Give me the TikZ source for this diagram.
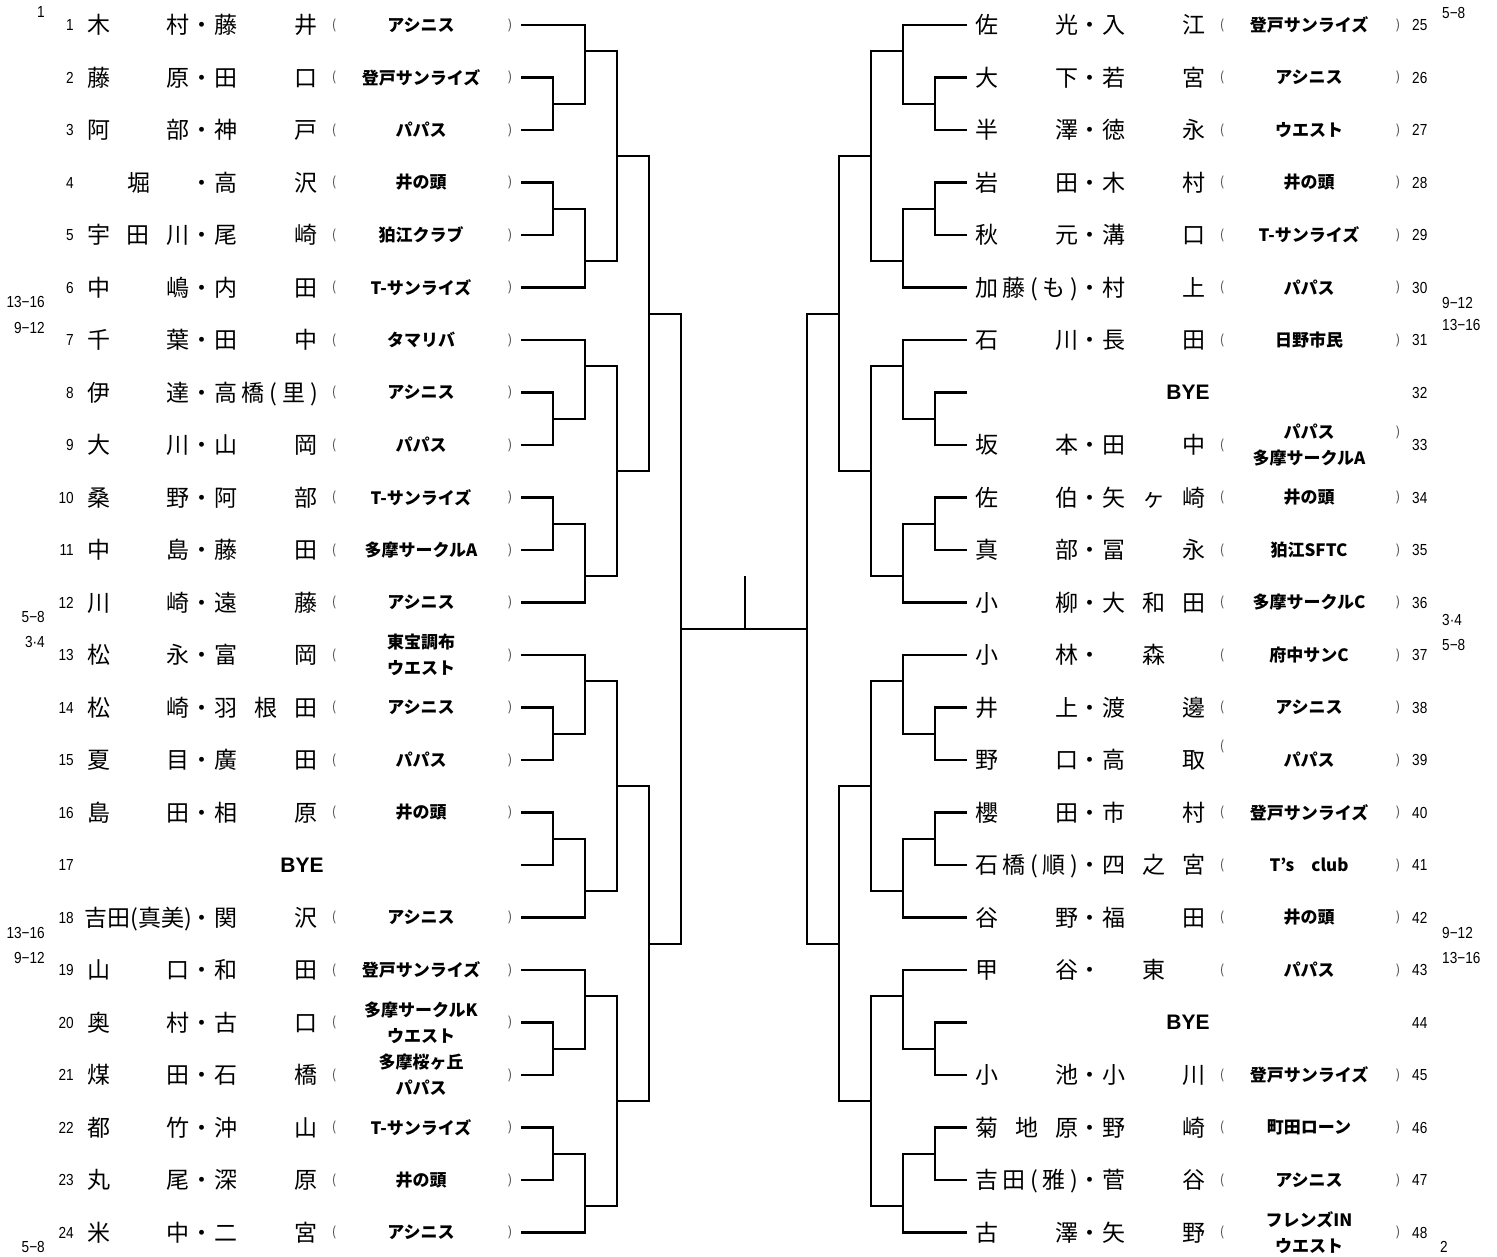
\documentclass[tikz,border=0pt]{standalone}
\usepackage{fontspec}
\setmainfont{Noto Sans CJK JP}
\newfontfamily\labfont{Liberation Sans}[FakeStretch=0.85]
\newfontfamily\byefont{Liberation Sans}
\makeatletter
\def\dist#1{\dist@a#1\relax}
\def\dist@a#1{#1\dist@b}
\def\dist@b#1{\ifx\relax#1\else\hfill#1\expandafter\dist@b\fi}
\makeatother
\tikzset{
  br/.style={line width=2.4pt, line join=miter},
  nm/.style={inner sep=0pt, font=\fontsize{23}{23}\selectfont, text height=20.2pt, text depth=2.8pt},
  team/.style={inner sep=0pt, align=center, font=\bfseries\fontsize{17}{26}\selectfont},
  par/.style={inner sep=0pt, font=\fontsize{13}{13}\selectfont, text=black!70},
  num/.style={inner sep=0pt, font=\labfont\fontsize{16}{16}\selectfont},
  lab/.style={inner sep=0pt, font=\labfont\fontsize{16}{16}\selectfont},
  byetxt/.style={inner sep=0pt, font=\byefont\bfseries\fontsize{21}{21}\selectfont},
}
% general entry: no, side, left, right, team, dy of '(', dy of ')'
\newcommand\entg[7]{%
  \pgfmathsetmacro\yy{25+(#1-1-24*#2)*52.5}%
  \pgfmathsetmacro\dx{888*#2}%
  \ifnum#2=0 \node[num,anchor=east] (n#1) at (74,\yy) {#1};%
  \else \node[num,anchor=west] (n#1) at (1412,\yy) {#1};\fi
  \node[nm] (a#1) at ({138.5+\dx},\yy) {\makebox[103pt]{\dist{#3}}};
  \node[nm] (d#1) at ({202+\dx},\yy) {・};
  \node[nm] (b#1) at ({266+\dx},\yy) {\makebox[104pt]{\dist{#4}}};
  \node[par] (o#1) at ({334+\dx},{\yy+#6}) {(};
  \node[par] (c#1) at ({510+\dx},{\yy+#7}) {)};
  \node[team] (t#1) at ({421+\dx},\yy) {#5};
}
\newcommand\ent[5]{\entg{#1}{#2}{#3}{#4}{#5}{0}{0}}
\newcommand\byeent[2]{%
  \pgfmathsetmacro\yy{25+(#1-1-24*#2)*52.5}%
  \pgfmathsetmacro\dx{886*#2}%
  \ifnum#2=0 \node[num,anchor=east] (n#1) at (74,\yy) {#1};%
  \else \node[num,anchor=west] (n#1) at (1412,\yy) {#1};\fi
  \node[byetxt] (y#1) at ({302+\dx},\yy) {BYE};
}
\begin{document}
\begin{tikzpicture}[x=1pt,y=-1pt]
\useasboundingbox (0,0) rectangle (1497,1257);
% row end points
\foreach \n in {1,...,24}{
  \coordinate (E\n) at (521,{25+(\n-1)*52.5});
}
\foreach \n in {25,...,48}{
  \coordinate (E\n) at (967,{25+(\n-25)*52.5});
}
% groups of six
\foreach \a/\s/\o/\r in {1/1/0/1, 7/1/0/7, 13/1/0/13, 19/1/0/19,
                         25/-1/1488/1, 31/-1/1488/7, 37/-1/1488/13, 43/-1/1488/19}{
  \pgfmathtruncatemacro\b{\a+1}
  \pgfmathtruncatemacro\c{\a+2}
  \pgfmathtruncatemacro\d{\a+3}
  \pgfmathtruncatemacro\e{\a+4}
  \pgfmathtruncatemacro\f{\a+5}
  \coordinate (P\a) at ({\o+\s*553},{25+(\r+0.5)*52.5});
  \coordinate (D\a) at ({\o+\s*553},{25+(\r+2.5)*52.5});
  \coordinate (Qt\a) at ({\o+\s*585},{25+(\r-0.5)*52.5});
  \coordinate (Qb\a) at ({\o+\s*585},{25+(\r+3.5)*52.5});
  \coordinate (G\a) at ({\o+\s*617},{25+(\r+1.5)*52.5});
  \draw[br] (E\b) -| (P\a) |- (E\c);
  \draw[br] (E\d) -| (D\a) |- (E\e);
  \draw[br] (E\a) -| (Qt\a) |- (P\a);
  \draw[br] (D\a) -| (Qb\a) |- (E\f);
  \draw[br] (Qt\a) -| (G\a) |- (Qb\a);
}
% halves and final
\coordinate (HL1) at (649,{25+5.5*52.5});
\coordinate (HL2) at (649,{25+17.5*52.5});
\coordinate (FL) at (681,{25+11.5*52.5});
\coordinate (HR1) at (839,{25+5.5*52.5});
\coordinate (HR2) at (839,{25+17.5*52.5});
\coordinate (FR) at (807,{25+11.5*52.5});
\draw[br] (G1) -| (HL1) |- (G7);
\draw[br] (G13) -| (HL2) |- (G19);
\draw[br] (HL1) -| (FL) |- (HL2);
\draw[br] (G25) -| (HR1) |- (G31);
\draw[br] (G37) -| (HR2) |- (G43);
\draw[br] (HR1) -| (FR) |- (HR2);
\draw[br] (FL) -- (FR);
\coordinate (TK) at (745,{25+10.5*52.5});
\draw[br] (TK) -- (TK |- FL);
% left entries
\ent{1}{0}{木村}{藤井}{アシニス}
\ent{2}{0}{藤原}{田口}{登戸サンライズ}
\ent{3}{0}{阿部}{神戸}{パパス}
\ent{4}{0}{堀}{高沢}{井の頭}
\ent{5}{0}{宇田川}{尾崎}{狛江クラブ}
\ent{6}{0}{中嶋}{内田}{T-サンライズ}
\ent{7}{0}{千葉}{田中}{タマリバ}
\ent{8}{0}{伊達}{高橋(里)}{アシニス}
\ent{9}{0}{大川}{山岡}{パパス}
\ent{10}{0}{桑野}{阿部}{T-サンライズ}
\ent{11}{0}{中島}{藤田}{多摩サークルA}
\ent{12}{0}{川崎}{遠藤}{アシニス}
\ent{13}{0}{松永}{富岡}{東宝調布\\ウエスト}
\ent{14}{0}{松崎}{羽根田}{アシニス}
\ent{15}{0}{夏目}{廣田}{パパス}
\ent{16}{0}{島田}{相原}{井の頭}
\byeent{17}{0}
\ent{18}{0}{吉田(真美)}{関沢}{アシニス}
\ent{19}{0}{山口}{和田}{登戸サンライズ}
\ent{20}{0}{奥村}{古口}{多摩サークルK\\ウエスト}
\ent{21}{0}{煤田}{石橋}{多摩桜ヶ丘\\パパス}
\ent{22}{0}{都竹}{沖山}{T-サンライズ}
\ent{23}{0}{丸尾}{深原}{井の頭}
\ent{24}{0}{米中}{二宮}{アシニス}
% right entries
\ent{25}{1}{佐光}{入江}{登戸サンライズ}
\ent{26}{1}{大下}{若宮}{アシニス}
\ent{27}{1}{半澤}{徳永}{ウエスト}
\ent{28}{1}{岩田}{木村}{井の頭}
\ent{29}{1}{秋元}{溝口}{T-サンライズ}
\ent{30}{1}{加藤(も)}{村上}{パパス}
\ent{31}{1}{石川}{長田}{日野市民}
\byeent{32}{1}
\entg{33}{1}{坂本}{田中}{パパス\\多摩サークルA}{0}{-13}
\ent{34}{1}{佐伯}{矢ヶ崎}{井の頭}
\ent{35}{1}{真部}{冨永}{狛江SFTC}
\ent{36}{1}{小柳}{大和田}{多摩サークルC}
\ent{37}{1}{小林}{森}{府中サンC}
\ent{38}{1}{井上}{渡邊}{アシニス}
\entg{39}{1}{野口}{高取}{パパス}{-14}{0}
\ent{40}{1}{櫻田}{市村}{登戸サンライズ}
\ent{41}{1}{石橋(順)}{四之宮}{T’s　club}
\ent{42}{1}{谷野}{福田}{井の頭}
\ent{43}{1}{甲谷}{東}{パパス}
\byeent{44}{1}
\ent{45}{1}{小池}{小川}{登戸サンライズ}
\ent{46}{1}{菊地原}{野崎}{町田ローン}
\ent{47}{1}{吉田(雅)}{菅谷}{アシニス}
\ent{48}{1}{古澤}{矢野}{フレンズIN\\ウエスト}
% seed labels
\node[lab,anchor=east] (s1) at (45,12) {1};
\node[lab,anchor=east] (s2) at (45,302) {13−16};
\node[lab,anchor=east] (s3) at (45,328) {9−12};
\node[lab,anchor=east] (s4) at (45,617) {5−8};
\node[lab,anchor=east] (s5) at (45,642) {3·4};
\node[lab,anchor=east] (s6) at (45,933) {13−16};
\node[lab,anchor=east] (s7) at (45,958) {9−12};
\node[lab,anchor=east] (s8) at (45,1247) {5−8};
\node[lab,anchor=west] (s9) at (1442,13) {5−8};
\node[lab,anchor=west] (s10) at (1442,303) {9−12};
\node[lab,anchor=west] (s11) at (1442,325) {13−16};
\node[lab,anchor=west] (s12) at (1442,620) {3·4};
\node[lab,anchor=west] (s13) at (1442,645) {5−8};
\node[lab,anchor=west] (s14) at (1442,933) {9−12};
\node[lab,anchor=west] (s15) at (1442,958) {13−16};
\node[lab,anchor=west] (s16) at (1440,1247) {2};
\end{tikzpicture}
\end{document}
